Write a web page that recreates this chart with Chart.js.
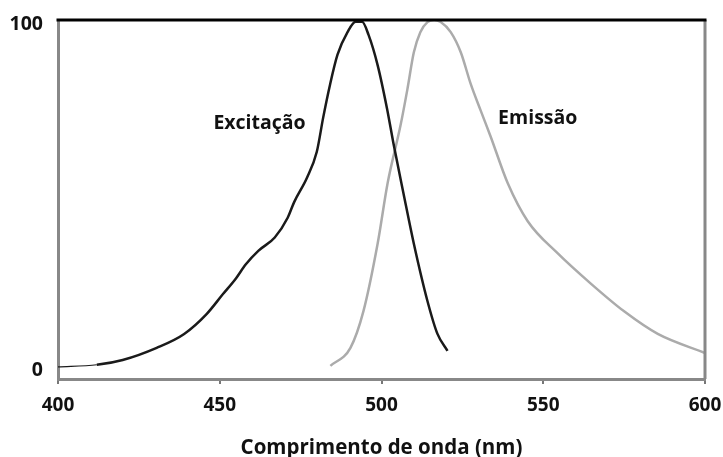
<!DOCTYPE html>
<html><head><meta charset="utf-8">
<script src="https://cdn.jsdelivr.net/npm/chart.js@4"></script>
<style>html,body{margin:0;padding:0;background:#fff;overflow:hidden}#w{width:723px;height:457px;position:relative}</style>
</head><body><div id="w"><canvas id="c"></canvas></div>
<script>
const xTicks = [400, 450, 500, 550, 600];
const yTicks = [0, 100];
const excitationNm  = [400, 412, 420, 430.5, 439, 446, 451, 455, 458, 462, 467, 471, 473, 477, 480, 482, 484, 486.4, 489.5, 492, 494, 496, 498.8, 501.7, 503.7, 506.8, 510, 514.2, 517.3, 520.4];
const excitationVal = [0, 0.6, 2, 5.5, 9.5, 15.3, 21, 25.5, 29.5, 33.5, 37.3, 43, 47.5, 54.6, 62, 72, 81, 90, 96.5, 99.5, 99.5, 95.7, 87, 74.5, 64.4, 50, 35.5, 19, 9.5, 4.6];
const emissionNm  = [484.2, 490.4, 494.4, 498.8, 501.9, 505.9, 508, 510, 512, 514.2, 516.3, 518.3, 521.4, 524.5, 527.6, 530.7, 533.7, 539, 545.2, 554.5, 564.7, 575, 585.4, 600];
const emissionVal = [0.3, 5.5, 16, 35.5, 53, 69.7, 80, 90.7, 96.5, 99.4, 100, 99.4, 96.5, 90.7, 81.5, 73.8, 66.5, 53, 42, 32.7, 24, 16, 9.5, 4];
const seriesLabels = ['Excitação', 'Emissão'];
const axisTitle = 'Comprimento de onda (nm)';

const pts = (xs, ys) => xs.map((x, i) => ({x, y: ys[i]}));
const FONT = "'Open Sans', Lato, sans-serif";

const framePlugin = {
  id: 'frame',
  afterDatasetsDraw(chart) {
    const {ctx, chartArea: a} = chart;
    ctx.save();
    ctx.lineCap = 'butt';
    ctx.strokeStyle = '#888';
    ctx.lineWidth = 3;
    ctx.beginPath(); ctx.moveTo(a.right, a.top); ctx.lineTo(a.right, a.bottom); ctx.stroke();
    ctx.strokeStyle = '#000';
    ctx.beginPath(); ctx.moveTo(a.left - 1.5, a.top); ctx.lineTo(a.right + 1.5, a.top); ctx.stroke();
    ctx.fillStyle = '#111';
    ctx.font = "bold 19.5px " + FONT;
    ctx.textBaseline = 'middle';
    ctx.textAlign = 'center';
    const xs = chart.scales.x, ys = chart.scales.y;
    ctx.fillText(seriesLabels[0], xs.getPixelForValue(462.3), ys.getPixelForValue(70.3));
    ctx.fillText(seriesLabels[1], xs.getPixelForValue(548.3), ys.getPixelForValue(71.5));
    ctx.restore();
  }
};

new Chart(document.getElementById('c'), {
  type: 'line',
  data: {
    datasets: [
      {
        label: seriesLabels[0],
        data: pts(excitationNm, excitationVal),
        borderColor: '#1a1a1a',
        borderWidth: 2.5,
        pointRadius: 0,
        cubicInterpolationMode: 'monotone',
        segment: { borderWidth: c => c.p0DataIndex === 0 ? 1.2 : 2.5 }
      },
      {
        label: seriesLabels[1],
        data: pts(emissionNm, emissionVal),
        borderColor: '#ababab',
        borderWidth: 2.5,
        pointRadius: 0,
        cubicInterpolationMode: 'monotone'
      }
    ]
  },
  options: {
    responsive: true,
    maintainAspectRatio: false,
    animation: false,
    layout: { padding: { top: 20, right: 18, left: 0, bottom: 0 } },
    plugins: { legend: { display: false }, tooltip: { enabled: false } },
    scales: {
      x: {
        type: 'linear', min: 400, max: 600,
        afterBuildTicks: s => { s.ticks = xTicks.map(v => ({value: v})); },
        afterFit: s => { s.height = 78; s.paddingLeft = 0; s.paddingRight = 0; },
        grid: { drawOnChartArea: false, drawTicks: true, tickLength: 5, color: '#777', lineWidth: 2 },
        border: { display: true, color: '#888', width: 3 },
        ticks: { color: '#111', font: { family: FONT, weight: 'bold', size: 19 }, padding: 10, maxRotation: 0 },
        title: { display: true, text: axisTitle, color: '#111', font: { family: FONT, weight: 'bold', size: 20.5 }, padding: { top: 8, bottom: -3 } }
      },
      y: {
        type: 'linear', min: -3.5, max: 100,
        afterBuildTicks: s => { s.ticks = yTicks.map(v => ({value: v})); },
        afterFit: s => { s.width = 58; s.paddingTop = 0; s.paddingBottom = 0; },
        grid: { drawOnChartArea: false, drawTicks: false },
        border: { display: true, color: '#888', width: 3 },
        ticks: { color: '#111', font: { family: FONT, weight: 'bold', size: 19.5 }, padding: 15, labelOffset: 4 }
      }
    }
  },
  plugins: [framePlugin]
});
</script></body></html>
